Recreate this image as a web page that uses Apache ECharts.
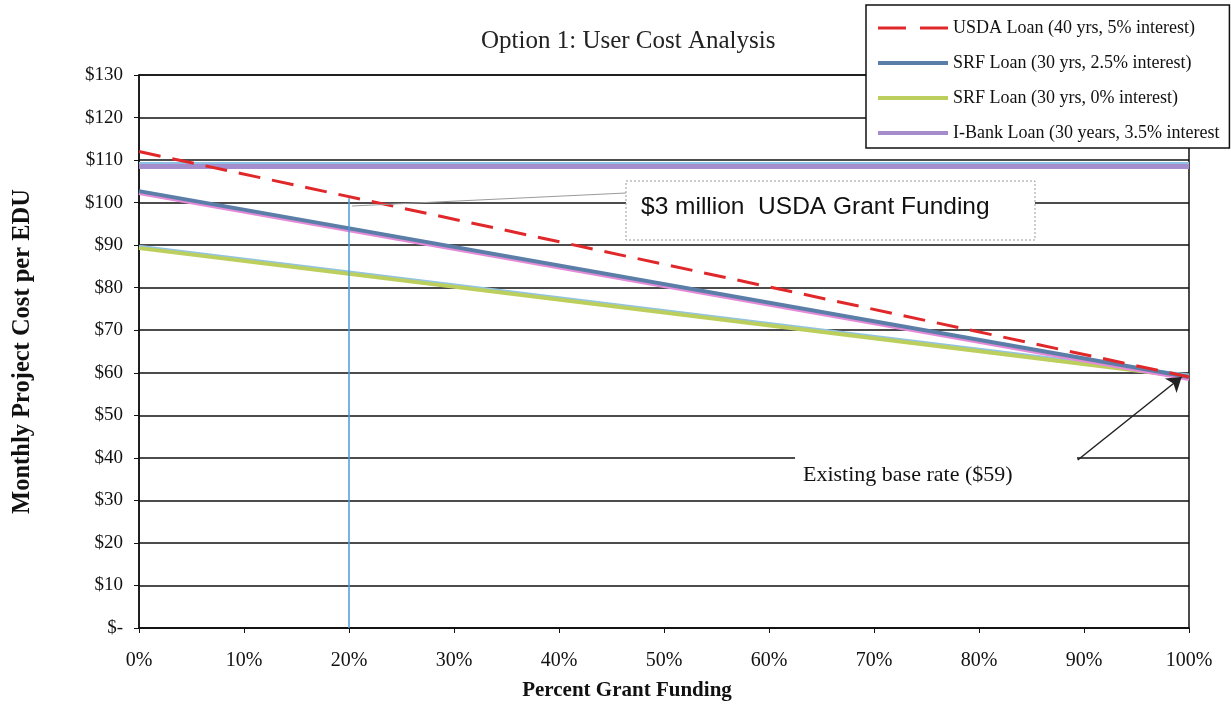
<!DOCTYPE html>
<html style="height: 100%">
   <head>
       <meta charset="utf-8">
       <script src="https://cdn.jsdelivr.net/npm/echarts@6/dist/echarts.min.js"></script>
   </head>
   <body style="height: 100%; margin: 0; background: #fff">
       <div id="container" style="width: 1231px; height: 707px"></div>
       <script type="text/javascript">
// percent grant funding (x) and monthly cost per EDU (y)
var grantPct = [0, 100];
var usda = [112.0, 59];
var srf25 = [102.7, 59];
var srf0 = [89.3, 59];
var ibank = [108.5, 108.5];

var names = [
    'USDA Loan (40 yrs, 5% interest)',
    'SRF Loan (30 yrs, 2.5% interest)',
    'SRF Loan (30 yrs, 0% interest)',
    'I-Bank Loan (30 years, 3.5% interest'
];

// annotations
var grantLine = [[20, 0], [20, 101]];
var baseArrow = [[89.4, 39.5], [99.3, 59]];

function pairs(ys) {
    return grantPct.map(function (x, i) { return [x, ys[i]]; });
}

var serif = 'Liberation Serif';
var dom = document.getElementById("container");
var myChart = echarts.init(dom);

option = {
    backgroundColor: '#fff',
    animation: false,
    title: {
        text: 'Option 1: User Cost Analysis',
        left: 476,
        top: 24,
        textStyle: { fontFamily: serif, fontSize: 25, fontWeight: 'normal', color: '#222' }
    },
    legend: {
        orient: 'vertical',
        left: 866,
        top: 5,
        padding: [14, 10, 6, 10],
        itemGap: 17,
        itemWidth: 70,
        itemHeight: 16,
        backgroundColor: '#fff',
        borderColor: '#111',
        borderWidth: 1.5,
        itemStyle: { opacity: 0 },
        data: [
            { name: names[0], lineStyle: { type: [28, 14], width: 3 } },
            { name: names[1], lineStyle: { width: 4 } },
            { name: names[2], lineStyle: { width: 4 } },
            { name: names[3], lineStyle: { width: 4 } }
        ],
        textStyle: { fontFamily: serif, fontSize: 18, color: '#111' }
    },
    grid: {
        left: 139,
        right: 42,
        top: 75,
        bottom: 79,
        show: true,
        borderColor: '#111',
        borderWidth: 1.5
    },
    xAxis: {
        type: 'value',
        min: 0,
        max: 100,
        interval: 10,
        name: 'Percent Grant Funding',
        nameLocation: 'middle',
        nameGap: 52,
        nameTextStyle: { fontFamily: serif, fontSize: 21, fontWeight: 'bold', color: '#111', padding: [0, 74, 0, 0] },
        axisLine: { lineStyle: { color: '#111', width: 1.5 } },
        axisTick: { show: true, length: 5, lineStyle: { color: '#111' } },
        splitLine: { show: false },
        axisLabel: {
            margin: 23,
            fontFamily: serif, fontSize: 20, color: '#111',
            formatter: function (v) { return v + '%'; }
        }
    },
    yAxis: {
        type: 'value',
        min: 0,
        max: 130,
        interval: 10,
        name: 'Monthly Project Cost per EDU',
        nameLocation: 'middle',
        nameGap: 104,
        nameTextStyle: { fontFamily: serif, fontSize: 24.5, fontWeight: 'bold', color: '#111' },
        axisLine: { show: true, lineStyle: { color: '#111', width: 1.5 } },
        axisTick: { show: true, length: 5, lineStyle: { color: '#111' } },
        splitLine: { lineStyle: { color: '#111', width: 1.5 } },
        axisLabel: {
            margin: 16,
            fontFamily: serif, fontSize: 19, color: '#111',
            formatter: function (v) { return v === 0 ? '$-' : '$' + v; }
        }
    },
    graphic: [
        // leader line to the grant callout
        { type: 'line', z: 10, shape: { x1: 352, y1: 206, x2: 626, y2: 193 },
          style: { stroke: '#9a9a9a', lineWidth: 1 } },
        { type: 'rect', z: 10, shape: { x: 626, y: 181, width: 409, height: 59 },
          style: { fill: '#fff', stroke: '#999', lineWidth: 1, lineDash: [2, 2] } },
        { type: 'text', z: 11, left: 641, top: 195,
          style: { text: '$3 million  USDA Grant Funding', font: '24.5px "Liberation Sans"', fill: '#111' } },
        { type: 'rect', z: 10, shape: { x: 795, y: 447, width: 282, height: 44 },
          style: { fill: '#fff' } },
        { type: 'text', z: 11, left: 803, top: 464,
          style: { text: 'Existing base rate ($59)', font: '22px "Liberation Serif"', fill: '#111' } }
    ],
    series: [
        {
            name: names[0],
            type: 'line',
            z: 5,
            symbol: 'none',
            data: pairs(usda),
            lineStyle: { color: '#e0282a', width: 3, type: [22, 12] },
            itemStyle: { color: '#e0282a' }
        },
        {
            name: names[1],
            type: 'line',
            z: 3,
            symbol: 'none',
            data: pairs(srf25),
            lineStyle: { color: '#5a7ea8', width: 4, shadowColor: '#e58ad8', shadowOffsetY: 2, shadowBlur: 0 },
            itemStyle: { color: '#5a7ea8' },
            markLine: {
                silent: true,
                symbol: ['none', 'none'],
                label: { show: false },
                lineStyle: { color: '#4c9bd8', width: 1.5, type: 'solid', shadowBlur: 0, shadowOffsetY: 0 },
                data: [[{ coord: grantLine[0] }, { coord: grantLine[1] }]]
            }
        },
        {
            name: names[2],
            type: 'line',
            z: 2,
            symbol: 'none',
            data: pairs(srf0),
            lineStyle: { color: '#bccf5c', width: 4, shadowColor: '#92c4df', shadowOffsetY: -1.5, shadowBlur: 0 },
            itemStyle: { color: '#bccf5c' },
            markLine: {
                silent: true,
                z: 12,
                symbol: ['none', 'arrow'],
                symbolSize: 14,
                label: { show: false },
                lineStyle: { color: '#222', width: 1.5, type: 'solid', shadowBlur: 0, shadowOffsetY: 0 },
                data: [[{ coord: baseArrow[0] }, { coord: baseArrow[1] }]]
            }
        },
        {
            name: names[3],
            type: 'line',
            z: 4,
            symbol: 'none',
            data: pairs(ibank),
            lineStyle: { color: '#a58ccc', width: 5, shadowColor: '#8ec0e6', shadowOffsetY: -2, shadowBlur: 0 },
            itemStyle: { color: '#a58ccc' }
        }
    ]
};

if (option && typeof option === "object") {
    myChart.setOption(option, true);
}
       </script>
   </body>
</html>
